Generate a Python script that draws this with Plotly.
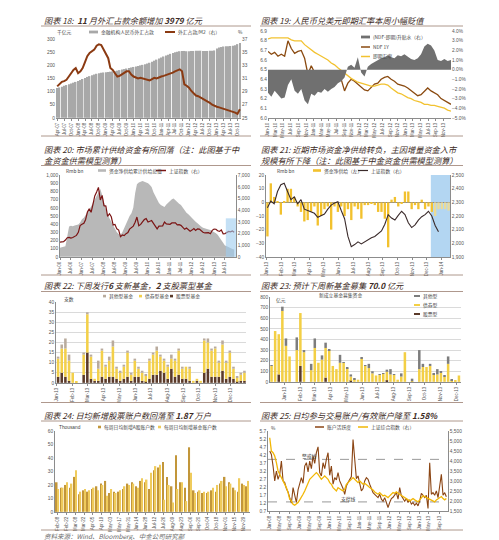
import numpy as np
import pandas as pd
import plotly.graph_objects as go

W, H = 499, 540
FONT = "Liberation Sans, Noto Sans CJK SC, sans-serif"
CJK = "Noto Sans CJK SC, sans-serif"
AX = "#8c8c8c"
TC = "#3d2b25"

# ================= DATA =================
# Chart 18: FX holdings (bn*100 RMB) and FX/M2 (%), monthly from Apr-07
c18_start = "2007-04-01"
c18_fx_balance = [114, 116, 119, 122, 125, 128, 131, 134, 137,
                  140, 144, 148, 152, 156, 159, 162, 165, 168, 170, 172, 173,
                  174, 175, 176, 177, 178, 180, 182, 184, 186, 188, 190, 192,
                  194, 196, 198, 200, 202, 204, 207, 210, 214, 218, 222, 226,
                  230, 234, 238, 241, 244, 247, 250, 252, 254, 255, 255, 254,
                  254, 255, 255, 256, 256, 256, 255, 255, 255, 256, 256, 257,
                  264, 268, 270, 272, 273, 273, 274, 275, 277, 281, 285]
c18_fx_m2 = [29.8, 30.2, 30.5, 30.6, 30.8, 31.3, 31.8, 32.3, 32.6, 31.8,
             32.1, 32.6, 33.5, 34.4, 34.9, 35.1, 35.4, 36.0, 36.2, 36.1,
             35.4, 34.8, 34.1, 32.6, 32.3, 31.8, 31.3, 31.4, 31.6, 31.9,
             32.1, 32.1, 31.6, 31.3, 31.1, 31.0, 31.1, 31.0, 30.8, 30.8,
             30.7, 30.9, 31.1, 31.0, 31.2, 31.3, 31.4, 31.5, 31.6, 31.8,
             31.9, 32.1, 32.3, 32.4, 32.1, 30.1, 29.9, 29.6, 29.1, 28.7,
             28.4, 28.3, 28.1, 28.0, 27.7, 27.5, 27.3, 27.0, 26.8, 26.7,
             26.6, 26.5, 26.3, 26.2, 26.1, 26.0, 25.9, 25.8, 25.6, 26.3]

# Chart 19: NDF-spot premium (%), NDF 1Y, spot USD/CNY
c19_premium = [-2.4, -2.8, -2.2, -2.6, -3.0, -2.9, -1.6, -1.0, -2.2, -2.5,
               -2.0, -3.2, -3.6, -2.5, -2.7, -2.3, -2.4, -2.0, -2.3, -2.0,
               -1.8, -1.4, -1.2, -0.8, 0.3, 0.5, 0.2, 1.3, -0.3, -0.7,
               0.3, 0.6, 0.8, 1.0, 1.2, 1.3, 1.5, 1.3, 1.2, 1.5,
               1.4, 1.6, 1.3, 1.1, 1.0, 1.2, 1.6, 2.4, 2.7, 2.5,
               2.0, 1.0, 0.9, 1.1, 0.9, 1.0]
c19_ndf = [6.69, 6.66, 6.68, 6.64, 6.66, 6.64, 6.80, 6.72, 6.67, 6.69,
           6.70, 6.62, 6.45, 6.54, 6.47, 6.43, 6.45, 6.47, 6.42, 6.43,
           6.40, 6.43, 6.40, 6.28, 6.36, 6.40, 6.38, 6.35, 6.33, 6.29,
           6.28, 6.32, 6.35, 6.36, 6.40, 6.42, 6.43, 6.40, 6.38, 6.35,
           6.34, 6.33, 6.31, 6.28, 6.25, 6.23, 6.24, 6.28, 6.31, 6.28,
           6.26, 6.24, 6.20, 6.18, 6.16, 6.14]
c19_spot = [6.82, 6.83, 6.83, 6.83, 6.83, 6.83, 6.83, 6.81, 6.80, 6.80,
            6.80, 6.76, 6.73, 6.70, 6.68, 6.66, 6.64, 6.62, 6.60, 6.57,
            6.55, 6.52, 6.49, 6.46, 6.44, 6.41, 6.39, 6.37, 6.36, 6.35,
            6.34, 6.33, 6.33, 6.34, 6.35, 6.35, 6.34, 6.31, 6.28, 6.26,
            6.25, 6.23, 6.21, 6.20, 6.18, 6.17, 6.16, 6.14, 6.14, 6.13,
            6.13, 6.12, 6.11, 6.10, 6.08, 6.07]

# Chart 20: cumulative net supply (Rmb bn) and SSE index, monthly from Jan-06
c20_supply = [110, 115, 120, 130, 250, 370, 380, 375, 385, 390, 395, 420,
              460, 480, 510, 535, 575, 615, 660, 700, 750, 790, 830, 760,
              650, 580, 515, 470, 430, 400, 350, 300, 280, 270, 300, 350,
              420, 455, 500, 535, 600, 780, 890, 910, 925, 930, 918, 910,
              900, 880, 855, 790, 740, 700, 660, 635, 620, 610, 640, 660,
              690, 705, 715, 690, 675, 650, 635, 600, 575, 540, 520, 495,
              470, 455, 430, 410, 385, 370, 355, 345, 335, 335, 330, 320,
              310, 290, 270, 240, 210, 175, 140, 130, 115, 105, 95, 90]
c20_sse = [1259, 1300, 1299, 1440, 1642, 1672, 1612, 1658, 1752, 1837, 2099, 2675,
           2786, 2881, 3183, 3841, 4109, 3820, 4471, 5218, 5552, 5954, 4871, 5262,
           4383, 4348, 3473, 3693, 3433, 2736, 2775, 2397, 2293, 1729, 1871, 1821,
           1991, 2082, 2373, 2477, 2633, 2959, 3412, 2667, 2779, 2996, 3195, 3277,
           2989, 3051, 3110, 2870, 2592, 2398, 2638, 2638, 2656, 2979, 2820, 2808,
           2791, 2905, 2928, 2911, 2743, 2762, 2701, 2568, 2359, 2468, 2333, 2199,
           2292, 2428, 2263, 2396, 2373, 2225, 2103, 2047, 2086, 2069, 1980, 2269,
           2385, 2366, 2237, 2178, 2301, 1979, 1994, 2098, 2175, 2142, 2220, 2116]

# Chart 21: weekly net supply (Rmb bn) and SSE index, 2013
c21_flow = [-25, 14, 4, 1, -9, 0.5, 10, 10, 4, -3,
            -7, -14, -13, -7, -3, -17, -10, -5, -3, -20,
            -3, -7, -3, -10, -5, -13, -3, -5, -12, -2,
            -2, -1, -2, -7, -7, -12, -33, 2, 4, -3,
            -1, 8, 8, -5, -2, -5, 2, -5, -3, -7,
            -10, -5, -5, -5, -6]
c21_sse = [2260, 2310, 2290, 2380, 2430, 2440, 2380, 2320, 2340, 2290,
           2320, 2250, 2240, 2230, 2220, 2190, 2200, 2215, 2250, 2280,
           2295, 2305, 2240, 2180, 2050, 1975, 1990, 2010, 1995, 2010,
           2030, 2040, 2050, 2070, 2090, 2140, 2210, 2185, 2170, 2205,
           2235, 2210, 2150, 2115, 2135, 2170, 2195, 2210, 2235, 2200,
           2130, 2085]

# Chart 22: number of new funds per week (stock / bond / other)
c22_stock = [3, 5, 3, 1, 0, 0, 0, 4, 15, 2, 1, 1, 3, 2, 3, 3, 2, 1, 2, 3,
             1, 3, 3, 1, 0.5, 2, 4, 4, 6, 5, 2, 7, 3, 4, 2, 2, 1, 0, 1, 0,
             5, 7, 3, 3, 3, 6, 2, 3, 2, 0.5, 1, 1]
c22_bond = [9, 12, 14, 10, 5, 0.5, 0, 10, 19, 11, 1, 6, 13, 6, 8, 15, 5, 4, 6, 12,
            3, 8, 4, 4, 3, 9, 10, 12, 7, 6, 6, 5, 8, 12, 5, 6, 6, 1, 1, 1,
            16, 13, 13, 14, 7, 13, 8, 12, 5, 2, 3, 4]
c22_other = [1, 2, 5, 3, 0, 0, 0, 1, 1, 1, 0, 4, 1, 1, 2, 3, 1, 1, 1, 1,
             1, 1, 1, 1, 0.5, 1, 1, 2, 1, 1, 1, 2, 1, 1, 1, 0, 1, 0, 0, 0,
             1, 2, 1, 1, 1, 2, 1, 1, 1, 0.5, 1, 1]

# Chart 23: new fund raising per week (100m RMB)
c23_stock = [0, 0, 70, 0, 0, 0, 0, 0, 150, 0, 0, 0, 0, 0, 0, 40, 0, 0, 0, 0,
             0, 0, 10, 0, 0, 0, 0, 0, 0, 0, 0, 0, 15, 0, 0, 0, 0, 0, 0, 0,
             0, 0, 0, 0, 0, 0, 0, 0, 0, 0, 0, 0, 0]
c23_bond = [150, 480, 380, 670, 340, 240, 0, 300, 500, 280, 0, 110, 320, 180, 210, 280, 300, 150, 120, 180,
            180, 130, 40, 25, 20, 220, 150, 130, 80, 60, 65, 75, 80, 70, 65, 20, 50, 280, 0, 5,
            0, 120, 140, 140, 150, 70, 70, 85, 50, 170, 15, 10, 60]
c23_other = [5, 0, 0, 40, 70, 0, 0, 120, 0, 20, 0, 60, 90, 0, 40, 50, 10, 0, 0, 75,
             5, 5, 20, 5, 0, 10, 5, 40, 20, 0, 5, 5, 20, 50, 5, 0, 30, 0, 0, 25,
             0, 180, 30, 0, 20, 10, 50, 10, 10, 70, 5, 0, 0]

# Chart 24: daily average new accounts per week (thousand)
c24_stock_acc = [22, 18, 20, 18, 26, 13, 16, 15, 17, 19, 21, 23, 14, 15, 15, 17, 21, 22, 19, 23,
                 22, 17, 31, 33, 37, 26, 19, 42, 22, 18, 48, 16, 15, 14, 14, 16, 15, 21, 26, 22,
                 18, 15, 21, 19]
c24_fund_acc = [17, 18, 22, 21, 31, 15, 17, 16, 18, 16, 20, 12, 17, 14, 16, 19, 20, 21, 18, 25,
                24, 29, 34, 35, 9, 20, 7, 17, 22, 8, 29, 14, 16, 15, 15, 18, 20, 23, 19, 21,
                16, 25, 20, 23]

# Chart 25: account activity (%) and SSE composite
c25_activity = [4.45, 4.24, 3.51, 2.58, 3.2, 2.68, 2.99, 3.82, 2.58, 2.47,
                2.1, 1.89, 1.53, 1.18, 2.16, 1.68, 1.22, 2.01, 2.37, 2.78,
                2.43, 3.51, 3.72, 3.14, 3.82, 3.35, 4.14, 3.68, 4.35, 4.72,
                3.1, 2.89, 3.72, 3.35, 3.93, 4.35, 2.93, 3.51, 2.37, 2.78,
                2.64, 3.1, 2.58, 2.37, 2.1, 1.74, 2.26, 2.47, 2.68, 2.85,
                5.18, 3.72, 2.72, 2.89, 2.37, 1.95, 2.1, 2.58, 2.78, 2.68,
                2.37, 2.05, 1.84, 1.74, 1.64, 1.53, 1.74, 1.43, 1.3, 1.53,
                1.22, 0.91, 1.22, 1.47, 1.55, 1.74, 1.84, 1.43, 2.16, 1.64,
                1.43, 1.3, 1.47, 1.22, 1.39, 1.12, 1.22, 1.05, 1.18, 1.01,
                1.32, 1.8, 1.68, 1.53, 1.68, 0.85, 3.72, 1.74, 1.84, 1.68,
                1.95, 1.53, 2.26, 2.99, 1.68, 1.84, 1.58]
c25_sse = [5167, 4500, 4417, 4250, 3917, 3500, 3333, 3167, 3000, 2833,
           2667, 2417, 2083, 2000, 1833, 1783, 1833, 1917, 2050, 2167,
           2333, 2500, 2667, 2917, 3083, 3167, 3250, 3333, 3417, 3333,
           3167, 3083, 3167, 3250, 3167, 3083, 2917, 2833, 2667, 2583,
           2500, 2667, 2583, 2550, 2500, 2583, 2833, 2917, 3000, 3083,
           3167, 3083, 3000, 2917, 3000, 2917, 2833, 2883, 2833, 2750,
           2667, 2617, 2550, 2450, 2383, 2333, 2417, 2333, 2250, 2283,
           2217, 2167, 2250, 2333, 2417, 2383, 2450, 2383, 2333, 2283,
           2217, 2167, 2117, 2050, 2000, 2050, 2117, 2050, 2000, 1950,
           2050, 2167, 2250, 2217, 2167, 2117, 2083, 2050, 2000, 1950,
           2050, 2117, 2167, 2217, 2117, 2050, 2117]
c25_lines = [3.93, 1.26]

# ================= DATES (positions) =================
d18 = pd.date_range(c18_start, periods=len(c18_fx_balance), freq="MS")
d19 = pd.date_range("2010-01-01", "2013-12-31", periods=len(c19_spot))
d20 = pd.date_range("2006-01-01", periods=len(c20_sse), freq="MS")
d21 = pd.date_range("2013-01-03", periods=len(c21_flow), freq="7D")
d22 = pd.date_range("2013-01-04", periods=len(c22_bond), freq="7D")
d23 = pd.date_range("2012-12-07", periods=len(c23_bond), freq="7D")
d24 = pd.date_range("2013-02-08", periods=len(c24_stock_acc), freq="7D")
d25 = pd.date_range("2008-01-04", "2013-11-29", periods=len(c25_activity))

# ================= FIGURE =================
fig = go.Figure()
layout = dict(width=W, height=H, margin=dict(l=0, r=0, t=0, b=0),
              paper_bgcolor="white", plot_bgcolor="white", showlegend=False,
              barmode="group", bargap=0.3, bargroupgap=0.0, template="none",
              hovermode=False, font=dict(family=FONT))


def axk(kind, n):
    return f"{kind}axis" if n == 1 else f"{kind}axis{n}"


def rf(kind, n):
    return kind if n == 1 else f"{kind}{n}"


def make_x(n, px0, px1, yn, rng, tick0, dtick, fmt="%b-%y"):
    layout[axk("x", n)] = dict(
        domain=[px0 / W, px1 / W], anchor=rf("y", yn), type="date", range=rng,
        tick0=tick0, dtick=dtick, tickformat=fmt, tickangle=-90,
        tickfont=dict(family=FONT, size=4.5, color="#555555"),
        showgrid=False, zeroline=False, showline=True, linecolor=AX, linewidth=0.7,
        ticks="outside", ticklen=2, tickwidth=0.5, tickcolor=AX)


def make_y(n, xn, py0, py1, rng, dtick, side="left", overlay=None, fmt="",
           suffix="", grid=False, line=False, zero=False):
    e = (rng[1] - rng[0]) * 0.002
    d = dict(domain=[1 - py1 / H, 1 - py0 / H], anchor=rf("x", xn),
             range=[rng[0] - e, rng[1] + e], tick0=rng[0], dtick=dtick, side=side,
             tickformat=fmt, ticksuffix=suffix, showgrid=grid, gridcolor="#dadada",
             gridwidth=0.5, zeroline=zero, zerolinecolor="#8c8c8c", zerolinewidth=0.7,
             showline=line, linecolor=AX, linewidth=0.7, ticks="",
             tickfont=dict(family=FONT, size=4.8, color="#555555"))
    if overlay:
        d["overlaying"] = rf("y", overlay)
    layout[axk("y", n)] = d


# Chart 18
make_x(1, 48, 233, 1, ["2007-03-16", "2013-11-16"], "2007-04-01", "M3")
make_y(1, 1, 31, 110, [0, 300], 50)
make_y(9, 1, 31, 110, [25, 37], 2, side="right", overlay=1)
fig.add_trace(go.Bar(x=d18, y=c18_fx_balance, xaxis="x", yaxis="y",
                     marker=dict(color="#a8a8a8", line=dict(width=0))))
fig.add_trace(go.Scatter(x=d18, y=c18_fx_m2, xaxis="x", yaxis="y9", mode="lines",
                         line=dict(color="#8b3a12", width=2)))

# Chart 19
make_x(2, 260, 443, 2, ["2010-01-01", "2013-12-31"], "2010-01-01", "M2")
make_y(2, 2, 23, 110, [6.0, 6.9], 0.1, fmt=".1f")
make_y(10, 2, 23, 110, [-5, 4], 1, side="right", overlay=2, fmt=".1f", suffix="%")
fig.add_trace(go.Scatter(x=d19, y=c19_premium, xaxis="x2", yaxis="y10", mode="lines",
                         fill="tozeroy", fillcolor="#707070", line=dict(width=0, color="#707070")))
fig.add_trace(go.Scatter(x=d19, y=c19_ndf, xaxis="x2", yaxis="y2", mode="lines",
                         line=dict(color="#8a4a10", width=1.3)))
fig.add_trace(go.Scatter(x=d19, y=c19_spot, xaxis="x2", yaxis="y2", mode="lines",
                         line=dict(color="#f2c230", width=1.3)))

# Chart 20
make_x(3, 52, 228, 3, ["2006-01-01", "2013-12-31"], "2006-01-01", "M6")
make_y(3, 3, 167, 249, [0, 1000], 100, fmt=",", line=True)
make_y(11, 3, 167, 249, [0, 7000], 1000, side="right", overlay=3, fmt=",", line=True)
fig.add_trace(go.Scatter(x=d20, y=c20_supply, xaxis="x3", yaxis="y3", mode="lines",
                         fill="tozeroy", fillcolor="#b8b8b8", line=dict(width=0, color="#b8b8b8")))
fig.add_trace(go.Scatter(x=d20, y=c20_sse, xaxis="x3", yaxis="y11", mode="lines",
                         line=dict(color="#7b1414", width=1.2)))

# Chart 21
make_x(4, 258, 442, 4, ["2012-12-31", "2014-01-19"], "2013-01-01", "M1")
make_y(4, 4, 167, 249, [-40, 20], 10, line=True, zero=True)
make_y(12, 4, 167, 249, [1900, 2500], 100, side="right", overlay=4, fmt=",", line=True)
c21_colors = ["#f2c12e"] * 50 + ["#eadb98"] * (len(c21_flow) - 50)
fig.add_trace(go.Bar(x=d21, y=c21_flow, xaxis="x4", yaxis="y4",
                     marker=dict(color=c21_colors, line=dict(width=0))))
fig.add_trace(go.Scatter(x=d21[:len(c21_sse)], y=c21_sse, xaxis="x4", yaxis="y12",
                         mode="lines", line=dict(color="#3a2a2a", width=1.1)))

# Chart 22
make_x(5, 48, 238, 5, ["2012-12-31", "2013-12-30"], "2013-01-01", "M1")
make_y(5, 5, 294, 375, [0, 40], 5, grid=True, line=True)
b22a = np.array(c22_stock)
b22b = b22a + np.array(c22_bond)
fig.add_trace(go.Bar(x=d22, y=c22_stock, xaxis="x5", yaxis="y5", offsetgroup="g22",
                     marker=dict(color="#5b3a29", line=dict(width=0))))
fig.add_trace(go.Bar(x=d22, y=c22_bond, base=b22a, xaxis="x5", yaxis="y5", offsetgroup="g22",
                     marker=dict(color="#f3d04a", line=dict(width=0))))
fig.add_trace(go.Bar(x=d22, y=c22_other, base=b22b, xaxis="x5", yaxis="y5", offsetgroup="g22",
                     marker=dict(color="#b9ab9d", line=dict(width=0))))

# Chart 23
make_x(6, 262, 453, 6, ["2012-12-04", "2013-12-10"], "2012-12-01", "M1")
make_y(6, 6, 289, 374, [0, 800], 100, grid=True, line=True)
b23a = np.array(c23_stock)
b23b = b23a + np.array(c23_bond)
fig.add_trace(go.Bar(x=d23, y=c23_stock, xaxis="x6", yaxis="y6", offsetgroup="g23",
                     marker=dict(color="#5b3a29", line=dict(width=0))))
fig.add_trace(go.Bar(x=d23, y=c23_bond, base=b23a, xaxis="x6", yaxis="y6", offsetgroup="g23",
                     marker=dict(color="#f3cf45", line=dict(width=0))))
fig.add_trace(go.Bar(x=d23, y=c23_other, base=b23b, xaxis="x6", yaxis="y6", offsetgroup="g23",
                     marker=dict(color="#7d7d7d", line=dict(width=0))))

# Chart 24
make_x(7, 47, 242, 7, ["2013-02-04", "2013-12-10"], "2013-02-08", 14 * 86400000, fmt="%b-%d")
make_y(7, 7, 423, 504, [0, 60], 10, line=True)
fig.add_trace(go.Bar(x=d24, y=c24_stock_acc, xaxis="x7", yaxis="y7", offsetgroup="a24",
                     marker=dict(color="#c2963a", line=dict(width=0))))
fig.add_trace(go.Bar(x=d24, y=c24_fund_acc, xaxis="x7", yaxis="y7", offsetgroup="b24",
                     marker=dict(color="#efcb5c", line=dict(width=0))))

# Chart 25
make_x(8, 260, 440, 8, ["2007-12-14", "2013-12-19"], "2008-01-01", "M4")
make_y(8, 8, 423, 503, [0.7, 5.7], 0.5, fmt=".1f", line=True)
make_y(13, 8, 423, 503, [1500, 5500], 500, side="right", overlay=8, fmt=",", line=True)
fig.add_trace(go.Scatter(x=d25, y=c25_activity, xaxis="x8", yaxis="y8", mode="lines",
                         line=dict(color="#8b4513", width=1.1)))
fig.add_trace(go.Scatter(x=d25, y=c25_sse, xaxis="x8", yaxis="y13", mode="lines",
                         line=dict(color="#f2b705", width=1.3)))

# ================= DECORATION =================
shapes = []
annots = []


def hline(px0, px1, py, color="#9b7d70", w=0.8, dash="solid"):
    shapes.append(dict(type="line", xref="paper", yref="paper", x0=px0 / W, x1=px1 / W,
                       y0=1 - py / H, y1=1 - py / H, line=dict(color=color, width=w, dash=dash)))


def box(px0, px1, py0, py1, color):
    shapes.append(dict(type="rect", xref="paper", yref="paper", x0=px0 / W, x1=px1 / W,
                       y0=1 - py1 / H, y1=1 - py0 / H, fillcolor=color, line=dict(width=0)))


def txt(px, py, s, size=4.8, color="#444444", anchor="left", style="normal", family=CJK):
    annots.append(dict(xref="paper", yref="paper", x=px / W, y=1 - py / H, text=s,
                       showarrow=False, xanchor=anchor, yanchor="middle", borderpad=0,
                       font=dict(family=family, size=size, color=color, style=style)))


# separators
for y in (18, 157.5, 283.5, 413):
    hline(33, 243, y)
    hline(252, 455, y)
for y in (128, 267, 394.5, 522):
    hline(33, 243, y)
    hline(252, 455, y)

# titles
TS = 8.2
txt(35, 12.5, "图表 18:  <b>11</b> 月外汇占款余额增加 <b>3979</b> 亿元", TS, TC, style="italic")
txt(252, 12.5, "图表 19: 人民币兑美元即期汇率本周小幅贬值", TS, TC, style="italic")
txt(35, 140.5, "图表 20: 市场累计供给资金有所回落（注：此图基于中", TS, TC, style="italic")
txt(35, 151.5, "金资金供需模型测算）", TS, TC, style="italic")
txt(252, 140.5, "图表 21: 近期市场资金净供给转负，主因增量资金入市", TS, TC, style="italic")
txt(252, 151.5, "规模有所下降（注：此图基于中金资金供需模型测算）", TS, TC, style="italic")
txt(35, 276.5, "图表 22: 下周发行<b>6</b> 支新基金，<b>2</b> 支股票型基金", TS, TC, style="italic")
txt(252, 276.5, "图表 23: 预计下周新基金募集 <b>70.0</b> 亿元", TS, TC, style="italic")
txt(35, 407, "图表 24: 日均新增股票账户数回落至 <b>1.87</b> 万户", TS, TC, style="italic")
txt(252, 407, "图表 25: 日均参与交易账户/有效账户降至 <b>1.58%</b>", TS, TC, style="italic")
txt(35, 528, "资料来源：Wind、Bloomberg、中金公司研究部", 6.5, "#6b6b6b", style="italic")

# chart 18 legend
txt(48, 24, "千亿元")
box(81, 90, 22.6, 25.4, "#a8a8a8")
txt(92, 24, "金融机构人民币外汇占款")
hline(157, 167, 24, "#8b3a12", 2)
txt(169, 24, "外汇占款/M2（右）")
txt(229, 24, "%")

# chart 19 legend
box(353, 362, 27.6, 30.4, "#707070")
txt(364, 29, "(NDF-即期)升贴水（右）")
hline(353, 362, 39, "#8a4a10", 1.5)
txt(364, 39, "NDF 1Y")
hline(353, 362, 48.5, "#f2c230", 1.5)
txt(364, 48.5, "即期汇率")

# chart 20 legend
txt(57, 162.5, "Rmb bn")
box(90, 98, 161.2, 163.8, "#b8b8b8")
txt(100, 162.5, "资金净供给累计供给总值")
hline(148, 158, 162.5, "#7b1414", 1.5)
txt(160, 162.5, "上证指数（右）")
shapes.append(dict(type="rect", xref="x3", yref="y11", x0="2013-07-15", x1="2013-12-31",
                   y0=0, y1=3300, fillcolor="#9ccbef", opacity=0.6, line=dict(width=0),
                   layer="above"))

# chart 21 legend
txt(268, 162.5, "Rmb bn")
box(305, 313, 161.2, 163.8, "#f2c12e")
txt(315, 162.5, "资金净供给（左）")
hline(350, 360, 162.5, "#3a2a2a", 1.2)
txt(362, 162.5, "上证指数（右）")
shapes.append(dict(type="rect", xref="x4", yref="y4 domain", x0="2013-12-10", x1="2014-01-19",
                   y0=0, y1=1, fillcolor="#b3d6f2", line=dict(width=0), layer="below"))

# chart 22 legend
txt(55, 291, "支数")
box(95, 98, 286.8, 289.4, "#b9ab9d")
txt(100, 288, "其他型基金")
box(131, 134, 286.8, 289.4, "#f3d04a")
txt(136, 288, "债券型基金")
box(162, 165, 286.8, 289.4, "#5b3a29")
txt(167, 288, "股票型基金")

# chart 23 legend
txt(332, 287, "新成立基金募集资金", anchor="center")
txt(267, 292, "亿元")
hline(406, 412, 288, "#7d7d7d", 2)
txt(414, 288, "其他型")
hline(406, 412, 297, "#f3cf45", 2)
txt(414, 297, "债券型")
hline(406, 412, 306, "#5b3a29", 2)
txt(414, 306, "股票型")

# chart 24 legend
txt(50, 419, "Thousand", family=FONT)
box(90, 93, 417.7, 420.3, "#c2963a")
txt(95, 419, "每周日均新增A股账户数")
box(150, 153, 417.7, 420.3, "#efcb5c")
txt(155, 419, "每周日均新增基金账户数")

# chart 25 legend + reference lines
txt(262, 419, "%")
hline(307, 316, 419, "#8b4513", 1.5)
txt(318, 419, "账户活跃度")
hline(350, 360, 419, "#f2b705", 1.5)
txt(362, 419, "上证综合指数（右）")
for v in c25_lines:
    shapes.append(dict(type="line", xref="x8 domain", yref="y8", x0=0, x1=1, y0=v, y1=v,
                       line=dict(color="#7f7f7f", width=0.8, dash="dash"), layer="below"))
txt(293, 447.5, "警戒线")
txt(332, 491, "支撑线")

layout["shapes"] = shapes
layout["annotations"] = annots
fig.update_layout(**layout)
fig.write_html("out.html")
